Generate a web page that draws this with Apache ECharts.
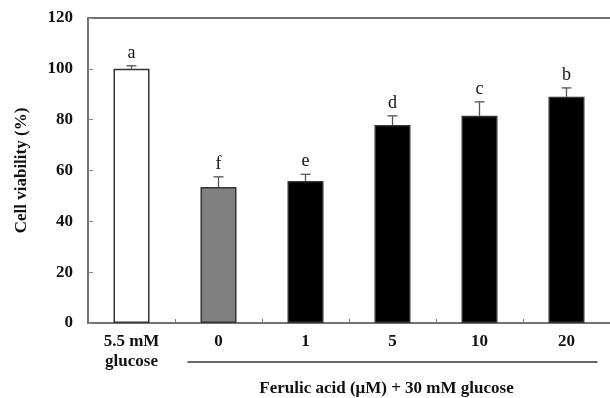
<!DOCTYPE html>
<html>
<head>
<meta charset="utf-8">
<script src="https://cdn.jsdelivr.net/npm/echarts@6/dist/echarts.min.js"></script>
<style>
  html, body { margin: 0; padding: 0; background: #fff; }
  #chart { width: 610px; height: 398px; }
</style>
</head>
<body>
<div id="chart"></div>
<script>
// --- data ---
const categories = ["5.5 mM\nglucose", "0", "1", "5", "10", "20"];
const viability = [100, 53.5, 55.9, 77.9, 81.5, 89.0];
const errUpper  = [1.2, 4.0, 2.6, 3.6, 5.5, 3.5];
const letters   = ["a", "f", "e", "d", "c", "b"];
const yTicks    = [0, 20, 40, 60, 80, 100, 120];
const groupTitle = "Ferulic acid (\u03bcM) + 30 mM glucose";

// bar fills: control white, 0 µM grey, the rest black
const FILLS = ["#ffffff", "#808080", "#000000", "#000000", "#000000", "#000000"];
const AXIS_COL = "#444";
const FONT = "'Times New Roman', 'Liberation Serif', serif";

const chart = echarts.init(document.getElementById("chart"), null, { renderer: "canvas" });

const option = {
  animation: false,
  backgroundColor: "#fff",
  grid: { left: 88, top: 18, width: 526, bottom: 75, containLabel: false },
  xAxis: [
    {
      type: "category",
      data: categories,
      boundaryGap: true,
      axisLine: { lineStyle: { color: AXIS_COL, width: 1.5 } },
      axisTick: { show: true, inside: true, length: 4, lineStyle: { color: "#777" } },
      axisLabel: {
        color: "#111", fontFamily: FONT, fontWeight: "bold", fontSize: 17,
        margin: 9, lineHeight: 20, interval: 0
      }
    },
    {
      // top border line only
      type: "category",
      position: "top",
      data: categories,
      axisLine: { lineStyle: { color: AXIS_COL, width: 1.5 } },
      axisTick: { show: false },
      axisLabel: { show: false }
    }
  ],
  yAxis: {
    type: "value",
    min: yTicks[0],
    max: yTicks[yTicks.length - 1],
    interval: 20,
    name: "Cell viability (%)",
    nameLocation: "middle",
    nameRotate: 90,
    nameGap: 58,
    nameTextStyle: { color: "#111", fontFamily: FONT, fontWeight: "bold", fontSize: 17 },
    axisLine: { show: true, lineStyle: { color: AXIS_COL, width: 1.5 } },
    axisTick: { show: true, inside: true, length: 5, lineStyle: { color: "#888" } },
    axisLabel: { color: "#111", fontFamily: FONT, fontWeight: "bold", fontSize: 17, margin: 15 },
    splitLine: { show: false }
  },
  series: [
    {
      type: "bar",
      xAxisIndex: 0,
      barWidth: 36,
      data: viability.map((v, i) => ({
        value: v,
        itemStyle: { color: FILLS[i], borderColor: "#333", borderWidth: 1.5 }
      }))
    },
    {
      // upper error bars + significance letters
      type: "custom",
      xAxisIndex: 0,
      data: viability.map((v, i) => [i, v, v + errUpper[i]]),
      z: 5,
      renderItem: function (params, api) {
        const base = api.coord([api.value(0), api.value(1)]);
        const top = api.coord([api.value(0), api.value(2)]);
        const half = 5;
        const idx = params.dataIndex;
        return {
          type: "group",
          children: [
            {
              type: "line",
              shape: { x1: base[0], y1: base[1], x2: top[0], y2: top[1] },
              style: { stroke: "#555", lineWidth: 1.3 }
            },
            {
              type: "line",
              shape: { x1: top[0] - half, y1: top[1], x2: top[0] + half, y2: top[1] },
              style: { stroke: "#555", lineWidth: 1.3 }
            },
            {
              type: "text",
              x: top[0],
              y: top[1] - 4,
              style: {
                text: letters[idx],
                fill: "#111",
                font: "18px " + FONT,
                align: "center",
                verticalAlign: "bottom"
              }
            }
          ]
        };
      }
    }
  ]
};

chart.setOption(option);

// bracket under the ferulic-acid groups, placed from the category scale
const pFirst = chart.convertToPixel({ xAxisIndex: 0 }, 1);
const pLast = chart.convertToPixel({ xAxisIndex: 0 }, categories.length - 1);
const x1 = pFirst - 31;
const x2 = pLast + 31;
const yLine = 362;
chart.setOption({
  graphic: [
    {
      type: "line",
      shape: { x1: x1, y1: yLine, x2: x2, y2: yLine },
      style: { stroke: "#333", lineWidth: 1.3 }
    },
    {
      type: "text",
      x: (x1 + x2) / 2 - 6,
      y: 389,
      style: {
        text: groupTitle,
        fill: "#111",
        font: "bold 17px " + FONT,
        align: "center",
        verticalAlign: "middle"
      }
    }
  ]
});
</script>
</body>
</html>
